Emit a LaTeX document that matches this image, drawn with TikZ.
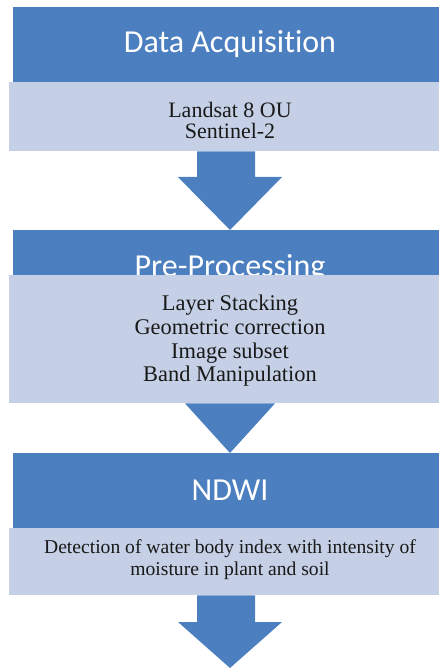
\documentclass[tikz,border=0pt]{standalone}
\usepackage{fontspec}
\setmainfont{Liberation Serif}
\newfontfamily\headfont[RawFeature={-liga;-dlig}]{Carlito}
\usetikzlibrary{calc}
\definecolor{hdblue}{HTML}{4C7FBF}
\definecolor{lightbox}{HTML}{C5D0E6}
\tikzset{
  hdr/.style={fill=hdblue, draw=none, inner sep=0pt, anchor=north west},
  bodybox/.style={fill=lightbox, draw=none, inner sep=0pt, anchor=north west},
  hdtext/.style={text=white, font=\headfont\fontsize{32}{36}\selectfont, inner sep=0pt, anchor=base},
  bodytext/.style={text=black!90, align=center, inner sep=0pt},
  flowarrow/.style={fill=hdblue, draw=none}
}
\begin{document}
\begin{tikzpicture}[x=1pt,y=-1pt]
\useasboundingbox (0,0) rectangle (439,668);
% block 1
\node[hdr, minimum width=426pt, minimum height=75pt] (h1) at (13,7) {};
\node[hdtext] (t1) at (230,53) {Data Acquisition};
\node[bodybox, minimum width=430pt, minimum height=69pt] (b1) at (9,82) {};
\node[bodytext, font=\fontsize{22}{21}\selectfont] (x1) at (230,120) {Landsat 8 OU\\Sentinel-2};
% block 2
\node[hdr, minimum width=426pt, minimum height=45pt] (h2) at (13,230) {};
\node[hdtext] (t2) at (230,276) {Pre-Processing};
\node[bodybox, minimum width=430pt, minimum height=128pt] (b2) at (9,275) {};
\node[bodytext, font=\fontsize{22.4}{23.7}\selectfont] (x2) at (230,341) {Layer Stacking\\Geometric correction\\Image subset\\Band Manipulation};
% block 3
\node[hdr, minimum width=426pt, minimum height=75pt] (h3) at (13,453) {};
\node[hdtext] (t3) at (230,500) {NDWI};
\node[bodybox, minimum width=430pt, minimum height=67pt] (b3) at (9,528) {};
\node[bodytext, font=\fontsize{19.6}{22}\selectfont] (x3) at (230,560) {Detection of water body index with intensity of\\moisture in plant and soil};
% arrows
\coordinate (a3end) at (230,668);
\fill[flowarrow] (b1.south -| 197,0) -- (b1.south -| 255,0) -- (255,177) -- (282,177) -- (h2.north -| 230,0) -- (178,177) -- (197,177) -- cycle;
\fill[flowarrow] (b2.south -| 185,0) -- (b2.south -| 275,0) -- (h3.north -| 230,0) -- cycle;
\fill[flowarrow] (b3.south -| 197,0) -- (b3.south -| 255,0) -- (255,622) -- (282,622) -- (a3end) -- (178,622) -- (197,622) -- cycle;
\end{tikzpicture}
\end{document}
